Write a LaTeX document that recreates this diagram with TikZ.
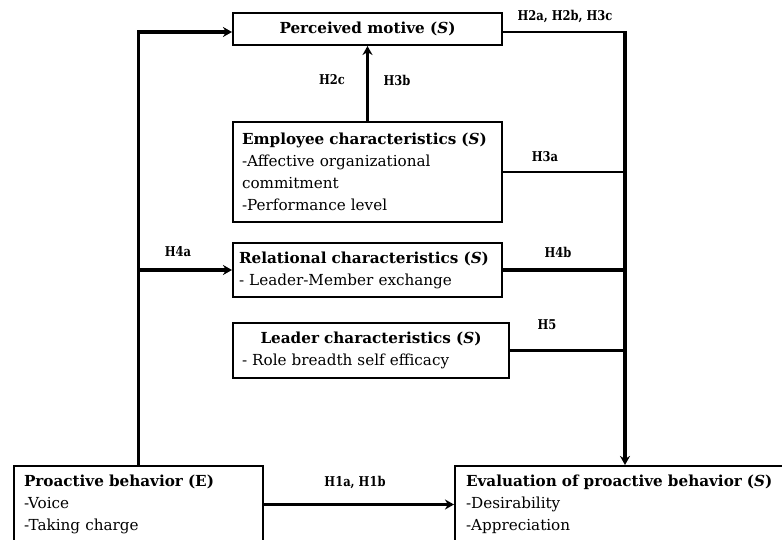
\documentclass[tikz,border=0pt]{standalone}
\usepackage{fontspec}
\setmainfont{DejaVu Serif}
\newfontfamily\labfont[FakeStretch=0.85]{DejaVu Serif}
\usetikzlibrary{arrows.meta}
\begin{document}
\begin{tikzpicture}[x=1pt,y=-1pt,
  box/.style={draw, line width=2pt, inner sep=0pt, font=\fontsize{15.2}{22}\selectfont},
  thickln/.style={line width=3.2pt},
  thinln/.style={line width=2.3pt},
  arr/.style={-{Stealth[length=9pt,width=10pt]}},
  lab/.style={font=\labfont\bfseries\fontsize{13.5}{15}\selectfont, inner sep=0pt}]
\useasboundingbox (0,0) rectangle (782,540);

\node[box, minimum width=269pt, minimum height=32pt, font=\fontsize{15.2}{22}\selectfont\bfseries] (PM) at (367.5,29) {Perceived motive (\textit{S})};

\node[box, text width=251pt, inner xsep=9pt, minimum height=100pt, align=left] (EC) at (367.5,172)
  {\textbf{Employee characteristics (\textit{S})}\\-Affective organizational\\commitment\\-Performance level};

\node[box, text width=257pt, inner xsep=6pt, minimum height=54pt, align=left] (RC) at (367.5,270)
  {\textbf{Relational characteristics (\textit{S})}\\- Leader-Member exchange};

\node[box, text width=258pt, inner xsep=9pt, minimum height=55pt, align=left] (LC) at (371,350.5)
  {\makebox[\linewidth]{\textbf{Leader characteristics (\textit{S})}}\\- Role breadth self efficacy};

\node[box, anchor=north west, text width=229pt, inner xsep=10pt, minimum height=77pt, align=left] (PB) at (13,465)
  {\textbf{Proactive behavior (E)}\\-Voice\\-Taking charge};

\node[box, anchor=north west, text width=318pt, inner xsep=11pt, minimum height=77pt, align=left] (EV) at (454,465)
  {\textbf{Evaluation of proactive behavior (\textit{S})}\\-Desirability\\-Appreciation};

\coordinate (RT) at (625,32);
\coordinate (R) at (625,465);

\draw[thickln,arr] (PB.north) |- ([yshift=-3pt]PM.west);
\draw[thickln,arr] (PB.north |- RC.west) -- (RC.west);
\draw[thinln] ([yshift=-3pt]PM.east) -- (RT);
\draw[thickln,arr] ([yshift=1pt]RT) -- (R);
\draw[thinln] (EC.east) -- (EC.east -| R);
\draw[thickln] (RC.east) -- (RC.east -| R);
\draw[thinln] (LC.east) -- (LC.east -| R);
\draw[thickln,arr] (EC.north) -- (PM.south);
\draw[thickln,arr] (PB.east) -- (EV.west);

\node[lab] (l1) at (565,16) {H2a, H2b, H3c};
\node[lab] (l2) at (332,80) {H2c};
\node[lab] (l3) at (397,80) {H3b};
\node[lab] (l4) at (545,157) {H3a};
\node[lab] (l5) at (178,252) {H4a};
\node[lab] (l6) at (558,252) {H4b};
\node[lab] (l7) at (547,325) {H5};
\node[lab] (l8) at (355,482) {H1a, H1b};
\end{tikzpicture}
\end{document}
